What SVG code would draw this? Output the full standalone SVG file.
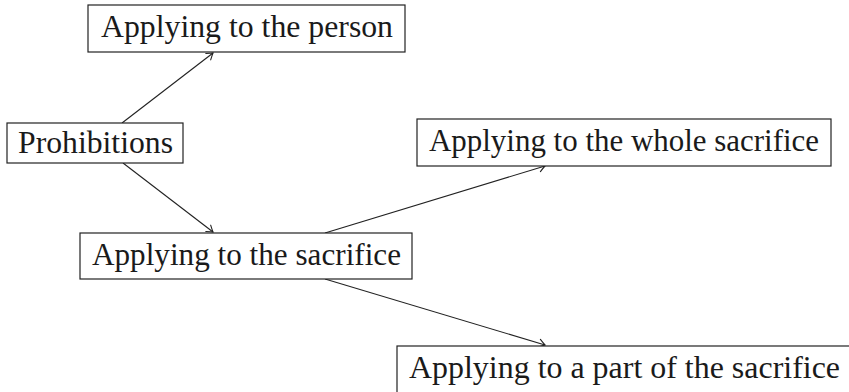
<svg xmlns="http://www.w3.org/2000/svg" width="849" height="392" viewBox="0 0 849 392">
<style>
  .box { fill: #ffffff; stroke: #222222; stroke-width: 1.2; }
  .lbl { font-family: "Liberation Serif", "DejaVu Serif", serif; font-size: 32px; fill: #1a1a1a; text-anchor: start; }
  .edge { fill: none; stroke: #222222; stroke-width: 1.1; marker-end: url(#arr); }
</style>
<defs>
  <marker id="arr" markerUnits="userSpaceOnUse" viewBox="-7 -5 8 10" refX="0" refY="0" markerWidth="8" markerHeight="10" orient="auto" overflow="visible">
    <path d="M-6,-4 Q-1.8,-1 0,0 Q-1.8,1 -6,4" fill="none" stroke="#222222" stroke-width="1.1" stroke-linecap="round"/>
  </marker>
</defs>
<rect width="849" height="392" fill="#ffffff"/>
<g id="connectors">
  <line class="edge" x1="122" y1="123" x2="213" y2="53"/>
  <line class="edge" x1="123" y1="163" x2="213" y2="232"/>
  <line class="edge" x1="325" y1="233" x2="545" y2="166"/>
  <line class="edge" x1="325" y1="279" x2="545" y2="345"/>
</g>
<g id="person">
  <rect class="box" x="88" y="5" width="317" height="47"/>
  <text class="lbl" x="101" y="37" textLength="292" lengthAdjust="spacingAndGlyphs">Applying to the person</text>
</g>
<g id="prohibitions">
  <rect class="box" x="7" y="123" width="176" height="40"/>
  <text class="lbl" x="18" y="153" textLength="155" lengthAdjust="spacingAndGlyphs">Prohibitions</text>
</g>
<g id="whole">
  <rect class="box" x="417" y="119" width="414" height="47"/>
  <text class="lbl" x="429" y="151" textLength="390" lengthAdjust="spacingAndGlyphs">Applying to the whole sacrifice</text>
</g>
<g id="sacrifice">
  <rect class="box" x="80" y="233" width="332" height="46"/>
  <text class="lbl" x="92" y="265" textLength="309" lengthAdjust="spacingAndGlyphs">Applying to the sacrifice</text>
</g>
<g id="part">
  <rect class="box" x="397" y="346" width="456" height="47"/>
  <text class="lbl" x="409" y="378" textLength="431" lengthAdjust="spacingAndGlyphs">Applying to a part of the sacrifice</text>
</g>
</svg>
